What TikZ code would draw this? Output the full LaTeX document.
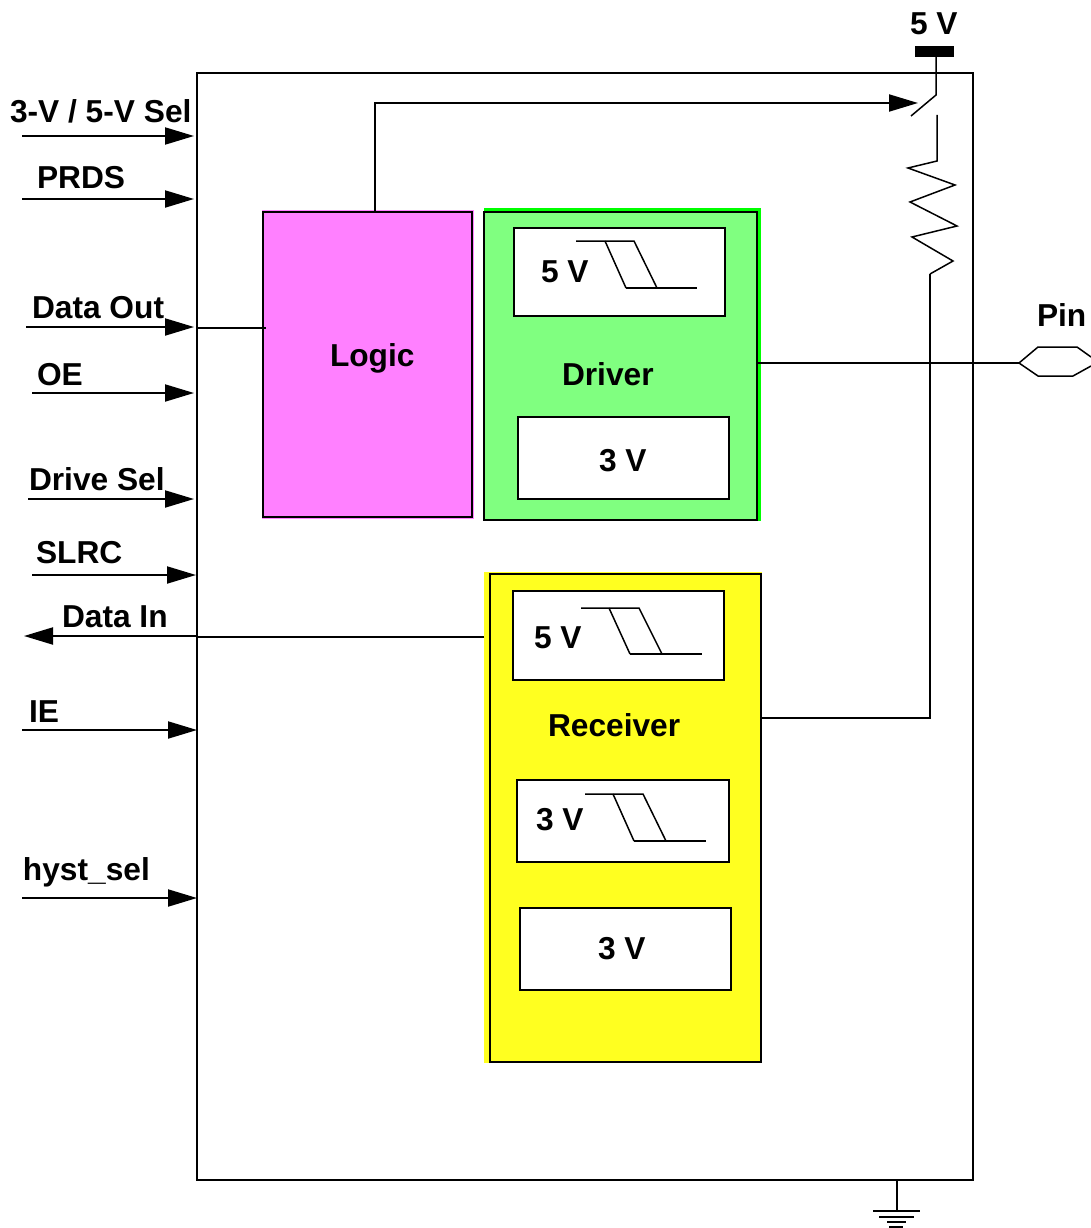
\documentclass[tikz,border=0pt]{standalone}
\usepackage{fontspec}
\setmainfont{Liberation Sans}
\usetikzlibrary{arrows.meta}
\definecolor{logicfill}{HTML}{FF80FF}
\definecolor{driverfill}{HTML}{80FF80}
\definecolor{driveredge}{HTML}{00FF00}
\definecolor{recvfill}{HTML}{FFFF20}
\newcommand{\pxbox}[6]{\node[#1,minimum width=#5pt-#3pt,minimum height=#6pt-#4pt] (#2) at ({(#3+#5)/2},{(#4+#6)/2}) {};}
\newcommand{\lab}[4]{\node[lbl] (#1) at (#2,#3) {#4};}
\tikzset{
  lbl/.style={anchor=base west,inner sep=0pt,outer sep=0pt,font=\bfseries\fontsize{31.7}{38}\selectfont},
  blk/.style={draw=black,line width=2pt,inner sep=0pt,outer sep=0pt},
  wbox/.style={blk,fill=white},
  wire/.style={draw=black,line width=2pt,line join=miter},
  thin wire/.style={draw=black,line width=1.5pt},
  sig/.style={wire,-{Triangle[length=29pt,width=17pt]}},
}
\begin{document}
\begin{tikzpicture}[x=1pt,y=-1pt]
\useasboundingbox (0,0) rectangle (1091,1228);
% main box
\pxbox{blk}{main}{197}{73}{973}{1180}
% colour fringes
\pxbox{fill=logicfill,inner sep=0pt,outer sep=0pt}{logichalo}{262}{210}{474}{519}
\pxbox{fill=driveredge,inner sep=0pt,outer sep=0pt}{driverhalo}{484}{208}{761}{521}
\pxbox{fill=recvfill,inner sep=0pt,outer sep=0pt}{recvhalo}{484}{572}{762}{1063}
% functional blocks
\pxbox{blk,fill=logicfill}{logic}{263}{212}{472}{517}
\pxbox{blk,fill=driverfill}{driver}{484}{212}{757}{520}
\pxbox{blk,fill=recvfill}{recv}{490}{574}{761}{1062}
\pxbox{wbox}{d5}{514}{228}{725}{316}
\pxbox{wbox}{d3}{518}{417}{729}{499}
\pxbox{wbox}{r5}{513}{591}{724}{680}
\pxbox{wbox}{r3a}{517}{780}{729}{862}
\pxbox{wbox}{r3b}{520}{908}{731}{990}
% supply bar
\pxbox{fill=black,inner sep=0pt,outer sep=0pt}{vbar}{915}{46}{954}{57}
% labels
\lab{l3v}{10}{123}{3-V / 5-V Sel}
\lab{lprds}{37}{188}{PRDS}
\lab{ldo}{32}{318}{Data Out}
\lab{loe}{37}{385}{OE}
\lab{lds}{29}{490}{Drive Sel}
\lab{lslrc}{36}{563}{SLRC}
\lab{ldi}{62}{627}{Data In}
\lab{lie}{29}{722}{IE}
\lab{lhs}{23}{880}{hyst\_sel}
\lab{llogic}{330}{366}{Logic}
\lab{ldriver}{562}{385}{Driver}
\lab{lrecv}{548}{736}{Receiver}
\lab{lpin}{1037}{326}{Pin}
\lab{lv}{910}{35}{5 V}
\lab{ld5}{541}{282}{5 V}
\lab{ld3}{599}{471}{3 V}
\lab{lr5}{534}{648}{5 V}
\lab{lr3a}{536}{830}{3 V}
\lab{lr3b}{598}{959}{3 V}
% input arrows
\foreach \n/\x/\y/\e in {a/22/136/194,b/22/199/194,c/26/327/194,d/32/393/194,e/28/499/194,f/32/575/196,g/22/730/197,h/22/898/197}{
  \coordinate (s\n) at (\x,\y);
  \coordinate (t\n) at (\e,\y);
  \draw[sig] (s\n) -- (t\n);
}
% data in
\coordinate (dis) at (196,636);
\coordinate (dit) at (24,636);
\draw[sig] (dis) -- (dit);
\coordinate (dij) at (196,637);
\draw[wire] (recv.west |- dij) ++(-6,0) -- (dij);
% data out into logic
\coordinate (doj) at (197,328);
\coordinate (doe) at (266,328);
\draw[wire] (doj) -- (doe);
% logic to switch
\coordinate (lj) at (375,103);
\coordinate (swtip) at (918,103);
\draw[sig] (logic.north -| lj) -- (lj) -- (swtip);
% supply and switch
\coordinate (swtop) at (936,95);
\coordinate (swend) at (911,116);
\draw[thin wire] (vbar.south -| swtop) -- (swtop) -- (swend);
% resistor
\coordinate (rtop) at (937,115);
\coordinate (rbot) at (930,274);
\coordinate (rj) at (930,718);
\draw[thin wire,line join=miter] (rtop) -- (937,161) -- (908,168) -- (955,185) -- (910,202) -- (957,226) -- (912,237) -- (953,261) -- (rbot);
\draw[wire] (rbot) -- (rj) -- (recv.east |- rj);
% pin
\coordinate (pa) at (1019,363);
\draw[wire] (driver.east |- pa) -- (pa);
\draw[thin wire] (1091,357) -- (1077,347) -- (1038,347) -- (pa) -- (1038,376) -- (1073,376) -- (1091,366);
% ground
\coordinate (gt) at (897,1211);
\draw[wire] (main.south -| gt) -- (gt);
\foreach \xa/\xb/\yy in {873/920/1211,879/914/1217,887/906/1222,889/903/1227}{
  \draw[wire] (\xa,\yy) -- (\xb,\yy);
}
% transfer curves
\draw[thin wire] (576,241) -- (634,241) -- (657,288);
\draw[thin wire] (605,241) -- (626,288);
\draw[wire] (626,288) -- (697,288);
\draw[thin wire] (581,608) -- (639,608) -- (662,654);
\draw[thin wire] (609,608) -- (630,654);
\draw[wire] (630,654) -- (702,654);
\draw[thin wire] (585,794) -- (643,794) -- (666,841);
\draw[thin wire] (613,794) -- (634,841);
\draw[wire] (634,841) -- (706,841);
\end{tikzpicture}
\end{document}
